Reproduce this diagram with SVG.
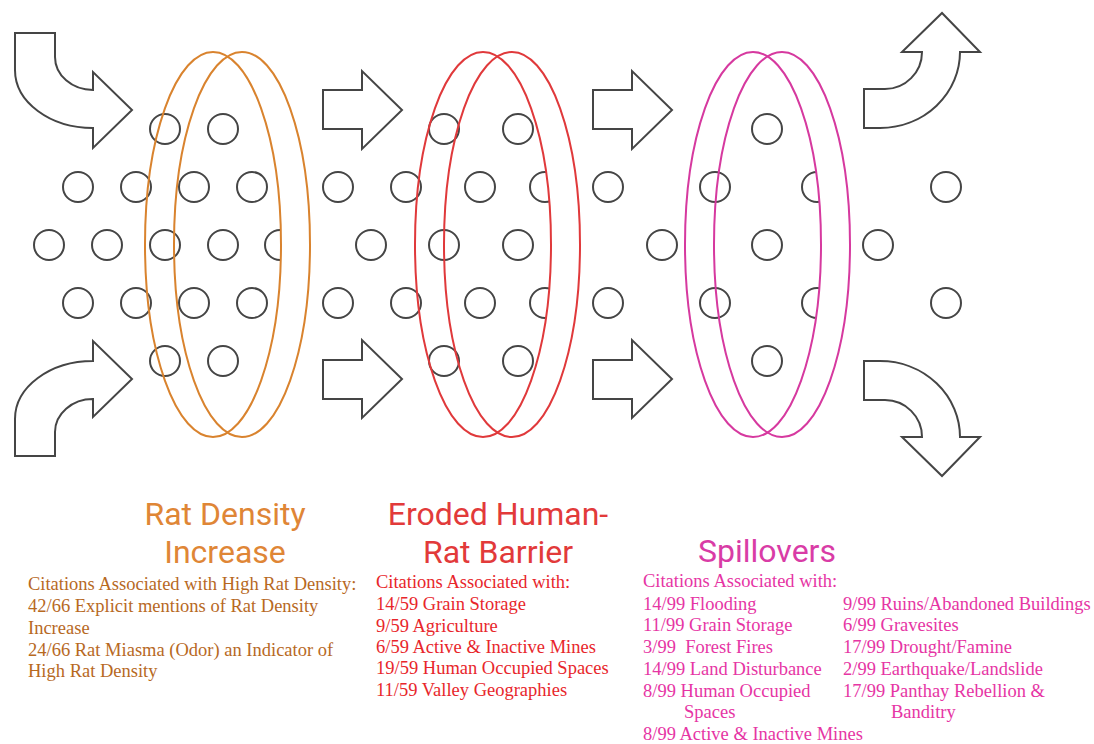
<svg xmlns="http://www.w3.org/2000/svg" xmlns:xlink="http://www.w3.org/1999/xlink" width="1094" height="744" viewBox="0 0 1094 744">
<style>
.dot{fill:none;stroke:#454545;stroke-width:2}
.arr{fill:#fff;stroke:#454545;stroke-width:2;stroke-linejoin:miter}
.title{font-family:Roboto,"Liberation Sans",sans-serif;font-size:32px;text-anchor:middle}
.body{font-family:"Liberation Serif","Times New Roman",serif;font-size:18.5px;white-space:pre}
.or{fill:#b7691f}
.ort{fill:#df8636}
.rd{fill:#e8262b}
.rdt{fill:#e23a3a}
.pk{fill:#e635a4}
.pkt{fill:#d93ca6}
</style>
<defs>
<path id="curveL" d="M15,33 L55,33 L55,57 A38,33 0 0 0 93,90 L93,72 L132,110 L93,148 L93,128 A78,58 0 0 1 15,70 Z"/>
<path id="curveR" d="M864,128 L880,128 A80,76 0 0 0 960,52 L980,52 L942,13 L902,52 L922,52 A37,37 0 0 1 885,89 L864,89 Z"/>
<path id="straight" d="M323,90 L362,90 L362,71 L402,110 L362,149 L362,129 L323,129 Z"/>
</defs>

<g id="particles" class="dot">
<circle cx="165" cy="129" r="15"/><circle cx="223" cy="129" r="15"/><circle cx="444" cy="129" r="15"/><circle cx="518" cy="129" r="15"/><circle cx="767" cy="129" r="15"/>
<circle cx="78" cy="187" r="15"/><circle cx="136" cy="187" r="15"/><circle cx="194" cy="187" r="15"/><circle cx="252" cy="187" r="15"/><circle cx="338" cy="187" r="15"/><circle cx="406" cy="187" r="15"/><circle cx="480" cy="187" r="15"/><circle cx="545" cy="187" r="15"/><circle cx="608" cy="187" r="15"/><circle cx="715" cy="187" r="15"/><circle cx="817" cy="187" r="15"/><circle cx="946" cy="187" r="15"/>
<circle cx="49" cy="245" r="15"/><circle cx="107" cy="245" r="15"/><circle cx="165" cy="245" r="15"/><circle cx="223" cy="245" r="15"/><circle cx="280" cy="245" r="15"/><circle cx="371" cy="245" r="15"/><circle cx="444" cy="245" r="15"/><circle cx="518" cy="245" r="15"/><circle cx="662" cy="245" r="15"/><circle cx="767" cy="245" r="15"/><circle cx="878" cy="245" r="15"/>
<circle cx="78" cy="303" r="15"/><circle cx="136" cy="303" r="15"/><circle cx="194" cy="303" r="15"/><circle cx="252" cy="303" r="15"/><circle cx="338" cy="303" r="15"/><circle cx="406" cy="303" r="15"/><circle cx="480" cy="303" r="15"/><circle cx="545" cy="303" r="15"/><circle cx="608" cy="303" r="15"/><circle cx="715" cy="303" r="15"/><circle cx="817" cy="303" r="15"/><circle cx="946" cy="303" r="15"/>
<circle cx="165" cy="361" r="15"/><circle cx="223" cy="361" r="15"/><circle cx="444" cy="361" r="15"/><circle cx="518" cy="361" r="15"/><circle cx="767" cy="361" r="15"/>
</g>

<g id="ring-density" fill="none" stroke="#d9832e" stroke-width="2">
<path fill="#ffffff" stroke="none" d="M227.5,56.4 A68,192.5 0 1 1 227.5,432.6 A68,192.5 0 0 0 227.5,56.4 Z"/>
<ellipse cx="213" cy="244.5" rx="68" ry="192.5"/>
<ellipse cx="242" cy="244.5" rx="68" ry="192.5"/>
</g>
<g id="ring-barrier" fill="none" stroke="#e0393b" stroke-width="2">
<path fill="#ffffff" stroke="none" d="M497.5,56.4 A68,192.5 0 1 1 497.5,432.6 A68,192.5 0 0 0 497.5,56.4 Z"/>
<ellipse cx="483" cy="244.5" rx="68" ry="192.5"/>
<ellipse cx="512" cy="244.5" rx="68" ry="192.5"/>
</g>
<g id="ring-spillover" fill="none" stroke="#d6399f" stroke-width="2">
<path fill="#ffffff" stroke="none" d="M767.5,56.4 A68,192.5 0 1 1 767.5,432.6 A68,192.5 0 0 0 767.5,56.4 Z"/>
<ellipse cx="753" cy="244.5" rx="68" ry="192.5"/>
<ellipse cx="782" cy="244.5" rx="68" ry="192.5"/>
</g>

<g id="connectors" class="arr">
<use xlink:href="#curveL"/>
<use xlink:href="#curveL" transform="matrix(1,0,0,-1,0,489)"/>
<use xlink:href="#straight"/>
<use xlink:href="#straight" transform="matrix(1,0,0,-1,0,489)"/>
<use xlink:href="#straight" transform="translate(270,0)"/>
<use xlink:href="#straight" transform="matrix(1,0,0,-1,270,489)"/>
<use xlink:href="#curveR"/>
<use xlink:href="#curveR" transform="matrix(1,0,0,-1,0,489)"/>
</g>

<g id="label-density">
<text class="title ort" x="225" y="525">Rat Density</text>
<text class="title ort" x="225" y="563">Increase</text>
<text class="body or" x="28" y="590">Citations Associated with High Rat Density:</text>
<text class="body or" x="28" y="612">42/66 Explicit mentions of Rat Density</text>
<text class="body or" x="28" y="634">Increase</text>
<text class="body or" x="28" y="656">24/66 Rat Miasma (Odor) an Indicator of</text>
<text class="body or" x="28" y="677">High Rat Density</text>
</g>

<g id="label-barrier">
<text class="title rdt" x="498" y="525">Eroded Human-</text>
<text class="title rdt" x="498" y="563">Rat Barrier</text>
<text class="body rd" x="376" y="588">Citations Associated with:</text>
<text class="body rd" x="376" y="610">14/59 Grain Storage</text>
<text class="body rd" x="376" y="632">9/59 Agriculture</text>
<text class="body rd" x="376" y="653">6/59 Active &amp; Inactive Mines</text>
<text class="body rd" x="376" y="674">19/59 Human Occupied Spaces</text>
<text class="body rd" x="376" y="696">11/59 Valley Geographies</text>
</g>

<g id="label-spillovers">
<text class="title pkt" x="767" y="562">Spillovers</text>
<text class="body pk" x="643" y="587">Citations Associated with:</text>
<text class="body pk" x="643" y="610">14/99 Flooding</text>
<text class="body pk" x="643" y="631">11/99 Grain Storage</text>
<text class="body pk" x="643" y="653">3/99  Forest Fires</text>
<text class="body pk" x="643" y="675">14/99 Land Disturbance</text>
<text class="body pk" x="643" y="697">8/99 Human Occupied</text>
<text class="body pk" x="684" y="718">Spaces</text>
<text class="body pk" x="643" y="740">8/99 Active &amp; Inactive Mines</text>
<text class="body pk" x="843" y="610">9/99 Ruins/Abandoned Buildings</text>
<text class="body pk" x="843" y="631">6/99 Gravesites</text>
<text class="body pk" x="843" y="653">17/99 Drought/Famine</text>
<text class="body pk" x="843" y="675">2/99 Earthquake/Landslide</text>
<text class="body pk" x="843" y="697">17/99 Panthay Rebellion &amp;</text>
<text class="body pk" x="891" y="718">Banditry</text>
</g>
</svg>
